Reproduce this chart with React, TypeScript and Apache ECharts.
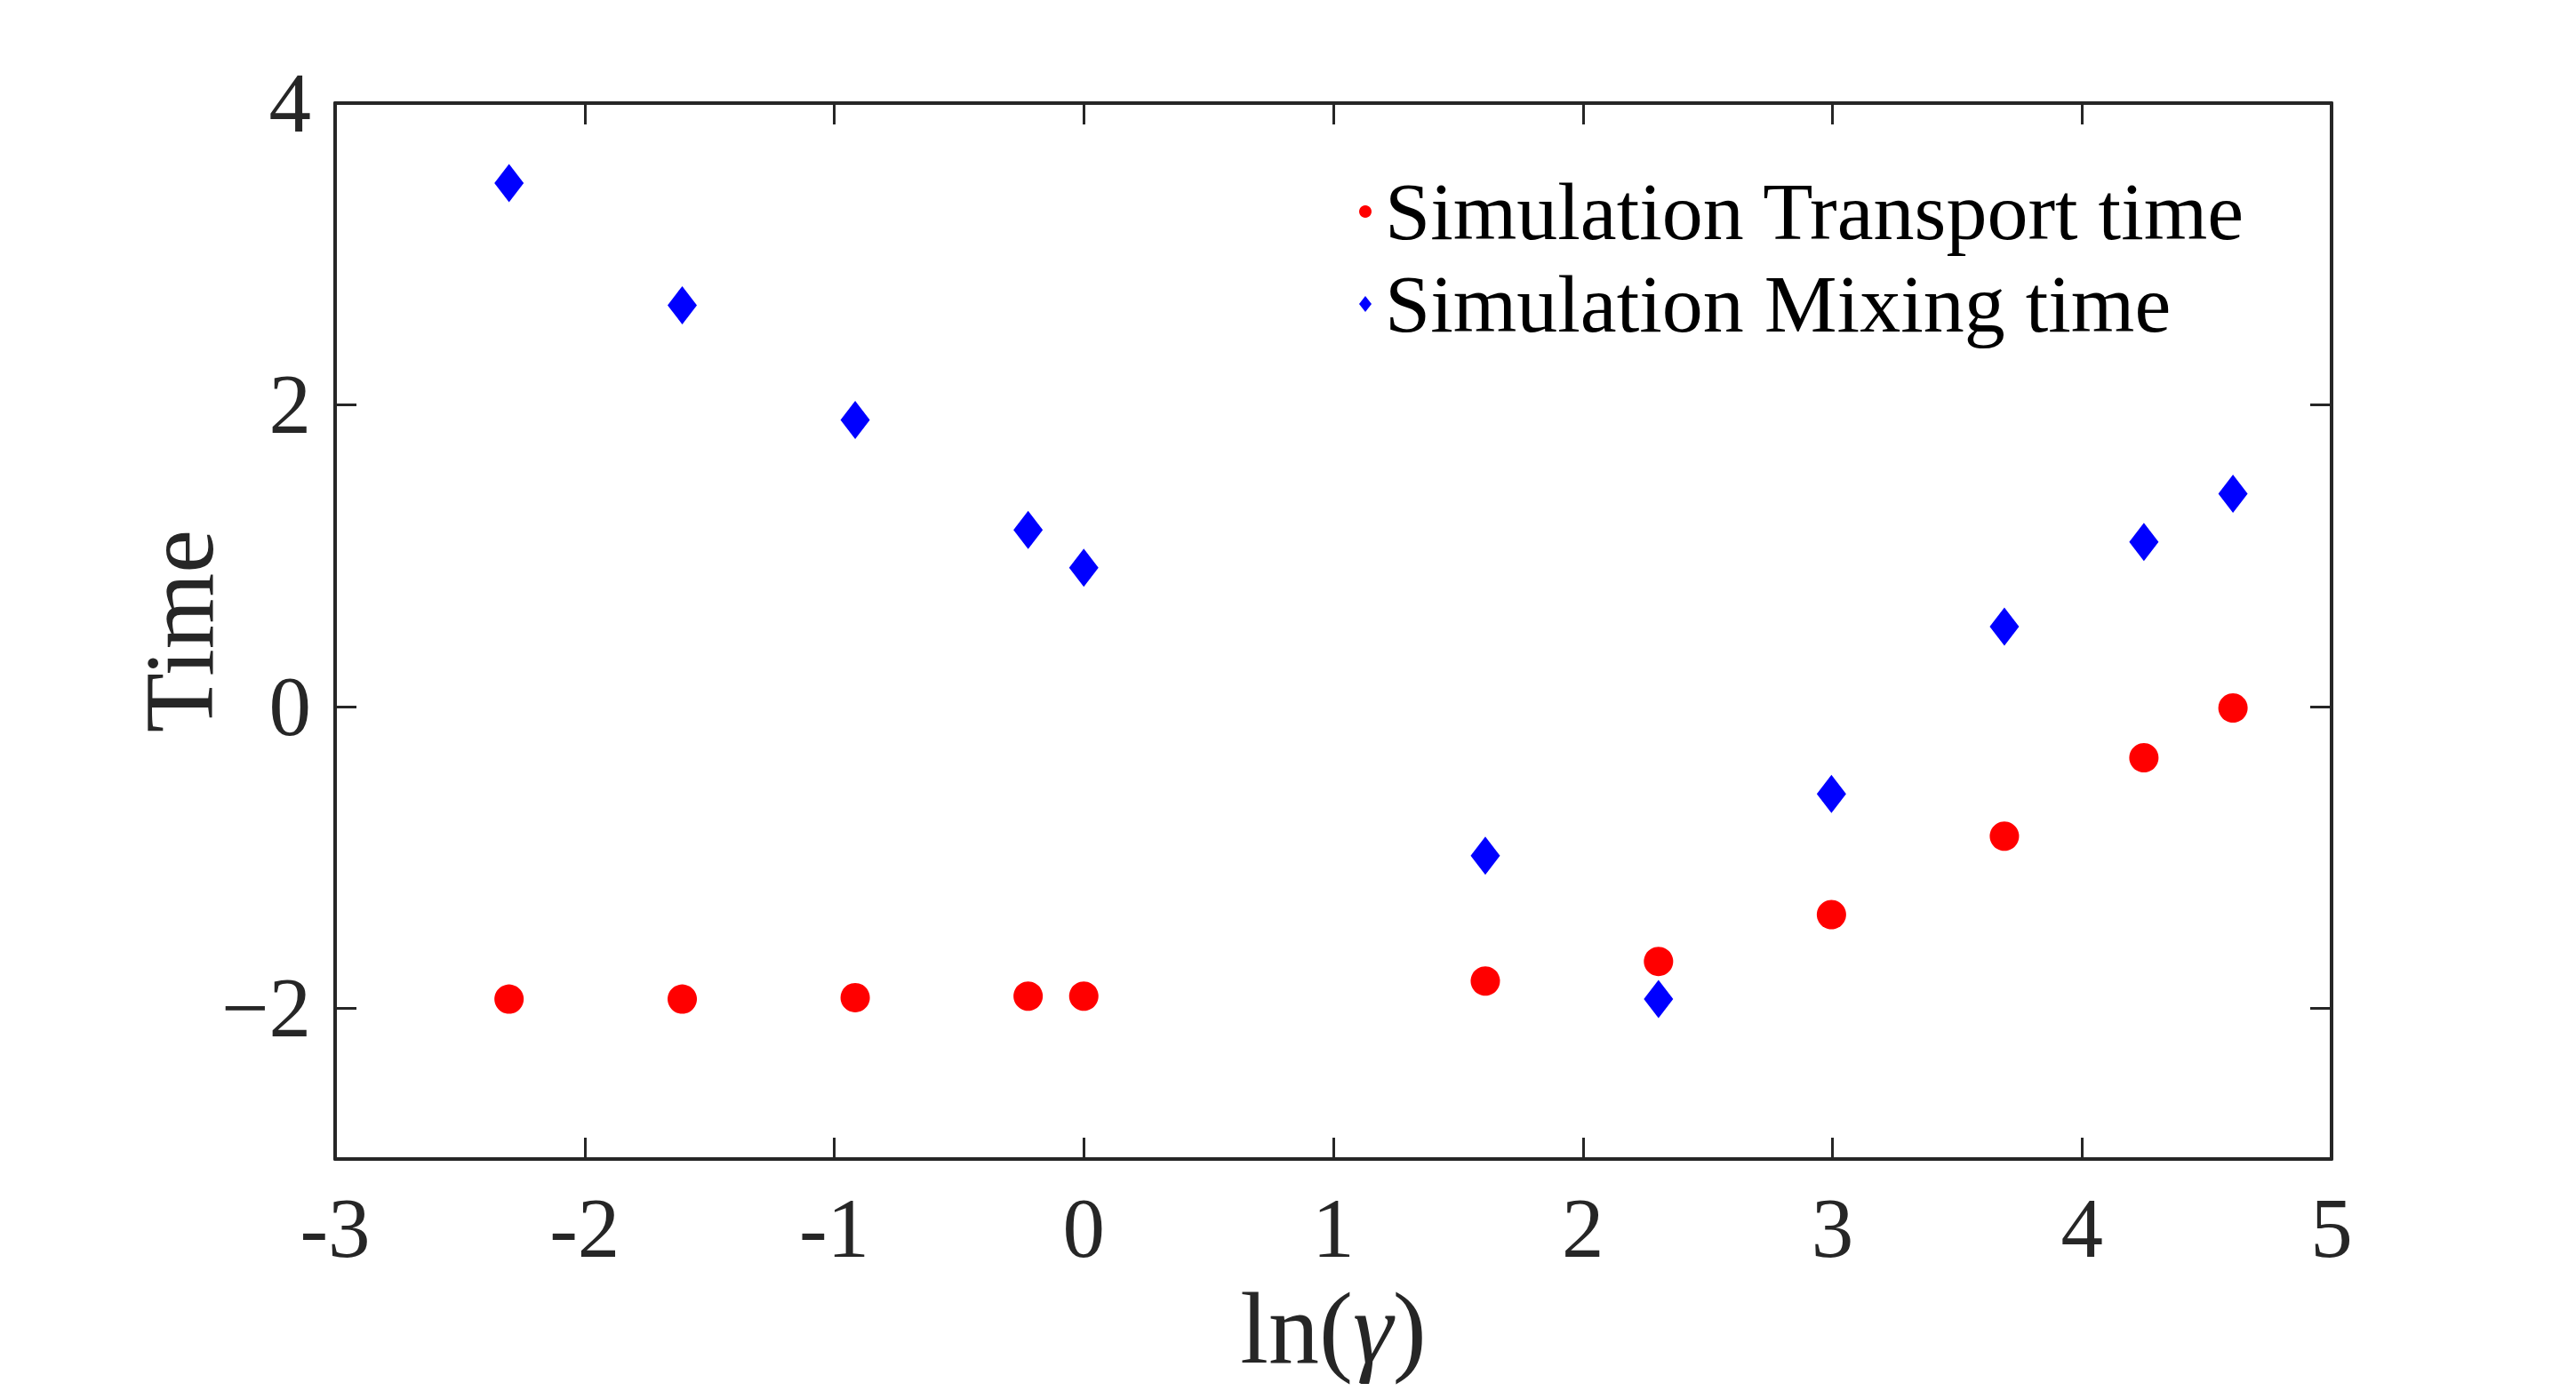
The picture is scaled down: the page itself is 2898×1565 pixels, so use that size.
import React, { useEffect, useRef } from "react";
import * as echarts from "echarts";

// ln(gamma) positions of the simulated cases
const gammaLn = [-2.303, -1.609, -0.916, -0.223, 0, 1.609, 2.303, 2.996, 3.689, 4.248, 4.605];
// simulated transport time (log scale)
const transportTime = [-1.94, -1.94, -1.93, -1.92, -1.92, -1.82, -1.69, -1.38, -0.86, -0.34, -0.01];
// simulated mixing time (log scale)
const mixingTime = [3.47, 2.66, 1.9, 1.17, 0.92, -0.99, -1.94, -0.58, 0.53, 1.09, 1.41];

const yTickValues = [-2, 0, 2, 4];
const seriesNames = ["Simulation Transport time", "Simulation Mixing time"];

const FONT = "'Liberation Serif', 'Times New Roman', serif";
const INK = "#262626";

export default function App() {
  const ref = useRef<HTMLDivElement>(null);

  useEffect(() => {
    if (!ref.current) return;
    const chart = echarts.init(ref.current, undefined, { renderer: "svg" });

    const axisLine = { show: true, onZero: false, lineStyle: { color: INK, width: 4 } };
    const axisTick = { show: true, inside: true, length: 24, lineStyle: { color: INK, width: 3 } };

    chart.setOption({
      animation: false,
      backgroundColor: "#ffffff",
      grid: { left: 377, right: 275, top: 116, bottom: 261 },
      legend: {
        orient: "vertical",
        left: 1524,
        top: 187,
        itemWidth: 14,
        itemHeight: 18,
        itemGap: 12,
        selectedMode: false,
        textStyle: { fontFamily: FONT, fontSize: 92, color: "#000", lineHeight: 90, padding: [0, 0, 0, 10] },
        data: [
          { name: seriesNames[0], icon: "circle" },
          { name: seriesNames[1], icon: "diamond" },
        ],
      },
      xAxis: [
        {
          type: "value",
          min: -3,
          max: 5,
          interval: 1,
          position: "bottom",
          axisLine,
          axisTick,
          splitLine: { show: false },
          axisLabel: {
            fontFamily: FONT,
            fontSize: 95,
            color: INK,
            margin: 30,
            formatter: (v: number) => String(v),
          },
          name: "{a|ln(}{g|γ}{a|)}",
          nameLocation: "middle",
          nameGap: 133,
          nameTextStyle: {
            rich: {
              a: { fontFamily: FONT, fontSize: 114, color: INK },
              g: { fontFamily: FONT, fontSize: 114, color: INK, fontStyle: "italic" },
            },
          },
        },
        {
          type: "value",
          min: -3,
          max: 5,
          interval: 1,
          position: "top",
          axisLine,
          axisTick,
          splitLine: { show: false },
          axisLabel: { show: false },
        },
      ],
      yAxis: [
        {
          type: "value",
          min: -3,
          max: 4,
          interval: 1,
          position: "left",
          axisLine,
          axisTick: { ...axisTick, customValues: yTickValues },
          splitLine: { show: false },
          axisLabel: {
            customValues: yTickValues,
            fontFamily: FONT,
            fontSize: 95,
            color: INK,
            margin: 27,
            formatter: (v: number) => (v < 0 ? "\u2212" + Math.abs(v) : String(v)),
          },
          name: "Time",
          nameLocation: "middle",
          nameGap: 120,
          nameMoveOverlap: false,
          nameTextStyle: { fontFamily: FONT, fontSize: 110, color: INK },
        },
        {
          type: "value",
          min: -3,
          max: 4,
          interval: 1,
          position: "right",
          axisLine,
          axisTick: { ...axisTick, customValues: yTickValues },
          splitLine: { show: false },
          axisLabel: { show: false },
        },
      ],
      series: [
        {
          type: "scatter",
          name: seriesNames[0],
          xAxisIndex: 0,
          yAxisIndex: 0,
          symbol: "circle",
          symbolSize: 33,
          itemStyle: { color: "#ff0000", opacity: 1 },
          data: gammaLn.map((x, i) => [x, transportTime[i]]),
        },
        {
          type: "scatter",
          name: seriesNames[1],
          xAxisIndex: 0,
          yAxisIndex: 0,
          symbol: "diamond",
          symbolSize: [33, 43],
          itemStyle: { color: "#0000ff", opacity: 1 },
          data: gammaLn.map((x, i) => [x, mixingTime[i]]),
        },
      ],
    });

    return () => chart.dispose();
  }, []);

  return (
    <div
      ref={ref}
      style={{ position: "fixed", left: 0, top: 0, width: 2898, height: 1565, background: "#fff" }}
    />
  );
}
